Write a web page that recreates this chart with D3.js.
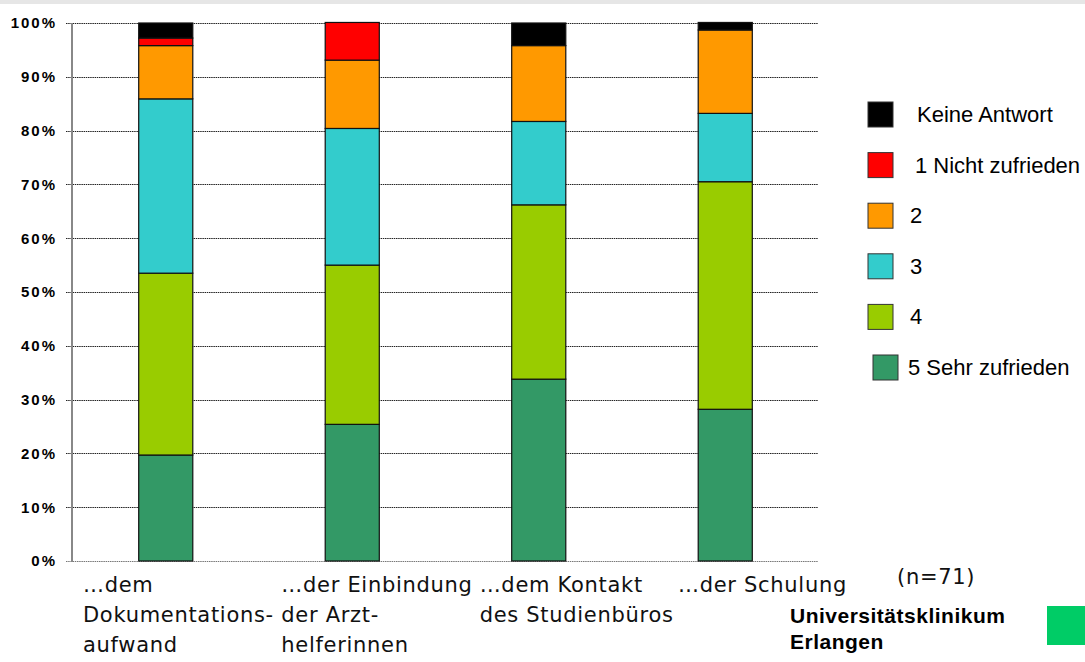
<!DOCTYPE html>
<html>
<head>
<meta charset="utf-8">
<script src="https://cdn.jsdelivr.net/npm/d3@7"></script>
<style>
  html, body { margin: 0; padding: 0; background: #fff; }
  svg { display: block; }
</style>
</head>
<body>
<svg id="chart" width="1085" height="662"></svg>
<script>
// Survey: "Zufriedenheit mit ..." — share of answers per rating (percent, n=71)
const categories = ["dok", "arzt", "kontakt", "schulung"];
const categoryLabels = [
  ["…dem", "Dokumentations-", "aufwand"],
  ["…der Einbindung", "der Arzt-", "helferinnen"],
  ["…dem Kontakt", "des Studienbüros"],
  ["…der Schulung"]
];
const seriesNames = ["5 Sehr zufrieden", "4", "3", "2", "1 Nicht zufrieden", "Keine Antwort"];
const sehrZufrieden = [19.7, 25.4, 33.8, 28.2];
const rating4      = [33.8, 29.6, 32.4, 42.3];
const rating3      = [32.4, 25.4, 15.5, 12.7];
const rating2      = [9.9, 12.7, 14.1, 15.5];
const nichtZufrieden = [1.4, 7.0, 0, 0];
const keineAntwort = [2.8, 0, 4.2, 1.4];
const yTicks = [0, 10, 20, 30, 40, 50, 60, 70, 80, 90, 100];
const legendOrder = ["Keine Antwort", "1 Nicht zufrieden", "2", "3", "4", "5 Sehr zufrieden"];
const colors = {
  "5 Sehr zufrieden": "#339966",
  "4": "#99cc00",
  "3": "#33cccc",
  "2": "#ff9900",
  "1 Nicht zufrieden": "#ff0000",
  "Keine Antwort": "#000000"
};

const seriesValues = [sehrZufrieden, rating4, rating3, rating2, nichtZufrieden, keineAntwort];
const table = categories.map((c, i) => {
  const row = { cat: c };
  seriesNames.forEach((s, k) => row[s] = seriesValues[k][i]);
  return row;
});

const svg = d3.select("#chart");

// thin grey band along the top edge
svg.append("rect").attr("x", 0).attr("y", 0).attr("width", 1085).attr("height", 4).attr("fill", "#e6e6e6");

const plot = { left: 72, right: 818, top: 23, bottom: 561 };

const x = d3.scaleBand().domain(categories).range([plot.left, plot.right]).paddingInner(0.71).paddingOuter(0.355);
const y = d3.scaleLinear().domain([0, 100]).range([plot.bottom, plot.top]);

// gridlines with dotted look
const grid = svg.append("g");
grid.selectAll("line").data(yTicks).join("line")
  .attr("x1", plot.left - 6).attr("x2", plot.right)
  .attr("y1", d => Math.round(y(d)) + 0.5).attr("y2", d => Math.round(y(d)) + 0.5)
  .attr("stroke", d => d === 0 ? "#777" : "#222")
  .attr("stroke-width", 1)
  .attr("stroke-dasharray", "1.5,0.7");

// y axis labels
const yAxis = d3.axisLeft(y).tickValues(yTicks).tickFormat(d => d + "%").tickSize(0).tickPadding(15);
const ya = svg.append("g").attr("transform", `translate(${plot.left},0)`).call(yAxis);
ya.select(".domain").remove();
ya.selectAll("text")
  .attr("font-family", "Liberation Sans, Arial, sans-serif")
  .attr("font-weight", "bold")
  .attr("font-size", 15)
  .attr("letter-spacing", "2")
  .attr("fill", "#000");

// y axis line
svg.append("line")
  .attr("x1", plot.left).attr("x2", plot.left)
  .attr("y1", plot.top).attr("y2", plot.bottom + 1)
  .attr("stroke", "#888").attr("stroke-width", 2);

// stacked bars
const stack = d3.stack().keys(seriesNames);
const layers = stack(table);
svg.append("g").selectAll("g").data(layers).join("g")
  .attr("fill", d => colors[d.key])
  .selectAll("rect").data(d => d.filter(p => p[1] - p[0] > 0)).join("rect")
  .attr("x", d => x(d.data.cat) + 0.5)
  .attr("width", x.bandwidth())
  .attr("y", d => y(d[1]))
  .attr("height", d => y(d[0]) - y(d[1]))
  .attr("stroke", "#111")
  .attr("stroke-width", 1.2);

// category labels (left aligned, multi-line)
const labelX = d3.scalePoint().domain(categories).range([83, 678]);
const lab = svg.append("g");
categories.forEach((c, i) => {
  const t = lab.append("text")
    .attr("x", labelX(c)).attr("y", 592)
    .attr("font-family", "DejaVu Sans, Verdana, sans-serif")
    .attr("font-size", 21)
    .attr("letter-spacing", "0.7")
    .attr("fill", "#111");
  categoryLabels[i].forEach((line, j) => {
    t.append("tspan").attr("x", labelX(c)).attr("dy", j === 0 ? 0 : 30).text(line);
  });
});

// legend
const legendY = d3.scalePoint().domain(legendOrder).range([114, 367]);
const lg = svg.append("g");
legendOrder.forEach((k, i) => {
  const cy = legendY(k);
  const sx = k === "5 Sehr zufrieden" ? 873 : 868;
  lg.append("rect")
    .attr("x", sx).attr("y", cy - 12).attr("width", 25).attr("height", 25)
    .attr("fill", colors[k]).attr("stroke", "#333").attr("stroke-width", 1);
  const tx = k === "Keine Antwort" ? 917 : (k === "1 Nicht zufrieden" ? 915 : (k === "5 Sehr zufrieden" ? 908 : 910));
  lg.append("text")
    .attr("x", tx).attr("y", cy + 8)
    .attr("font-family", "Liberation Sans, Arial, sans-serif")
    .attr("font-size", 22)
    .attr("fill", "#000")
    .text(k);
});

// sample size
svg.append("text")
  .attr("x", 897).attr("y", 584)
  .attr("font-family", "DejaVu Sans, Verdana, sans-serif")
  .attr("font-size", 21)
  .attr("letter-spacing", "0.7")
  .attr("fill", "#111")
  .text("(n=71)");

// institution
const inst = svg.append("text")
  .attr("font-family", "Liberation Sans, Arial, sans-serif")
  .attr("font-weight", "bold")
  .attr("font-size", 21)
  .attr("letter-spacing", "0.5")
  .attr("fill", "#000");
inst.append("tspan").attr("x", 790).attr("y", 623).text("Universitätsklinikum");
inst.append("tspan").attr("x", 790).attr("y", 649).text("Erlangen");
svg.append("rect").attr("x", 1047).attr("y", 606).attr("width", 38).attr("height", 39).attr("fill", "#00cc66");
</script>
</body>
</html>
